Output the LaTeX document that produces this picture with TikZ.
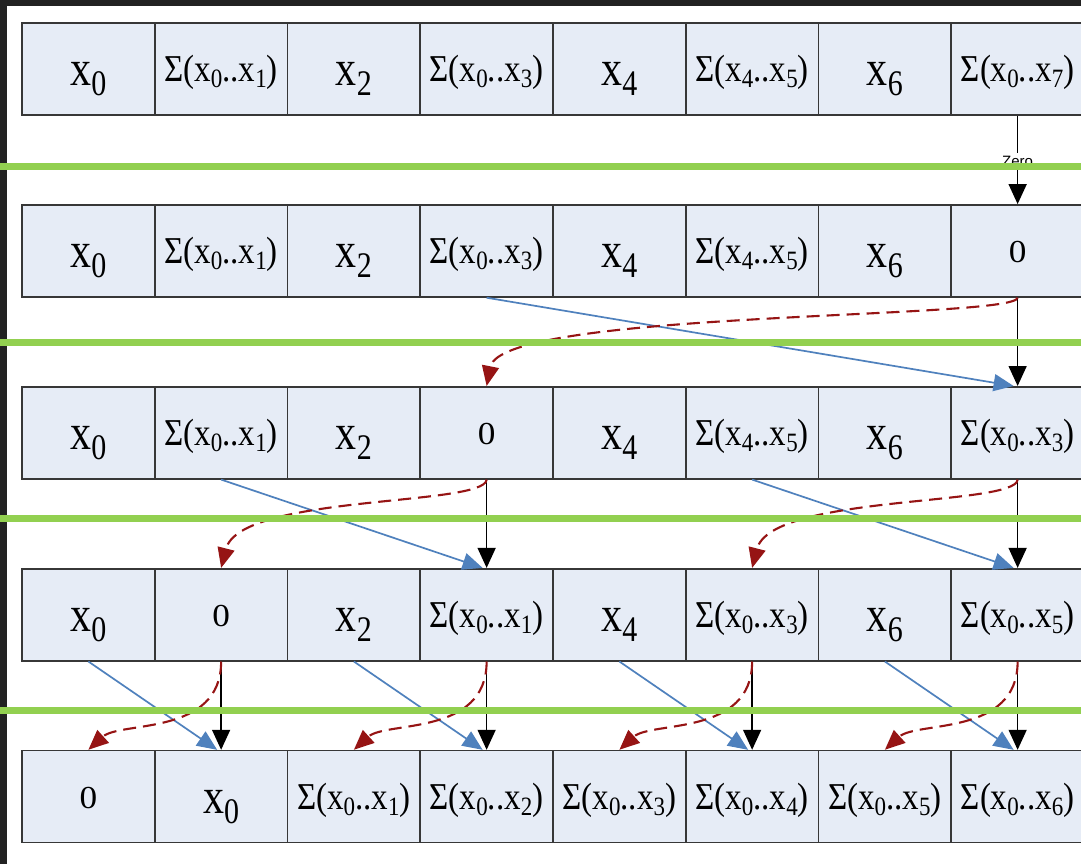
\documentclass[tikz,border=0pt]{standalone}
\usepackage{fontspec}
\setmainfont{Liberation Serif}
\setsansfont{Liberation Sans}
\usetikzlibrary{arrows.meta}
\definecolor{cellfill}{RGB}{230,236,246}
\definecolor{cellline}{RGB}{55,55,55}
\definecolor{gline}{RGB}{146,208,80}
\definecolor{barrow}{RGB}{79,129,189}
\definecolor{rarrow}{RGB}{150,20,20}
\definecolor{framedark}{RGB}{34,34,34}
\newcommand\cellsub[1]{\raisebox{-5pt}{\fontsize{23}{23}\selectfont #1}}
\newcommand\cellX[1]{\raisebox{-17pt}{\scalebox{1}[1.2]{\fontsize{42}{42}\selectfont x\raisebox{-8pt}{\fontsize{30}{30}\selectfont #1}}}}
\newcommand\cellS[2]{\raisebox{-13pt}{\scalebox{1}[1.15]{\fontsize{33}{33}\selectfont Σ(x\cellsub{#1}..x\cellsub{#2})}}}
\newcommand\cellZ{\raisebox{-12pt}{\scalebox{1.1}[1]{\fontsize{32}{32}\selectfont 0}}}
\tikzset{
  cell/.style={draw=cellline, fill=cellfill, line width=1.6pt, minimum width=132.75pt,
    minimum height=92pt, inner sep=0pt, text height=0pt, text depth=0pt},
  blk/.style={draw=black, line width=1.5pt, -{Triangle[length=20pt,width=18pt]}},
  blu/.style={draw=barrow, line width=1.7pt, -{Triangle[length=20pt,width=17pt]}},
  redcurve/.style={draw=rarrow, line width=2.1pt, dash pattern=on 13pt off 7pt,
    -{Triangle[length=20pt,width=17pt,fill=rarrow]}},
  sepline/.style={draw=gline, line width=7pt},
  zerolabel/.style={fill=white, inner sep=3pt, font=\fontsize{15}{15}\sffamily}
}
\begin{document}
\begin{tikzpicture}[x=1pt,y=-1pt]
\useasboundingbox (0,0) rectangle (1081,864);
\clip (0,0) rectangle (1081,864);
\fill[white] (0,0) rectangle (1081,864);
\fill[framedark] (0,0) rectangle (1081,6);
\fill[framedark] (0,0) rectangle (7,864);
% rows
\foreach \c/\t in {0/\cellX{0},1/\cellS{0}{1},2/\cellX{2},3/\cellS{0}{3},4/\cellX{4},5/\cellS{4}{5},6/\cellX{6},7/\cellS{0}{7}}
  \node[cell] (r1c\c) at (88.375+132.75*\c, 69) {\t};
\foreach \c/\t in {0/\cellX{0},1/\cellS{0}{1},2/\cellX{2},3/\cellS{0}{3},4/\cellX{4},5/\cellS{4}{5},6/\cellX{6},7/\cellZ}
  \node[cell] (r2c\c) at (88.375+132.75*\c, 250.9) {\t};
\foreach \c/\t in {0/\cellX{0},1/\cellS{0}{1},2/\cellX{2},3/\cellZ,4/\cellX{4},5/\cellS{4}{5},6/\cellX{6},7/\cellS{0}{3}}
  \node[cell] (r3c\c) at (88.375+132.75*\c, 432.8) {\t};
\foreach \c/\t in {0/\cellX{0},1/\cellZ,2/\cellX{2},3/\cellS{0}{1},4/\cellX{4},5/\cellS{0}{3},6/\cellX{6},7/\cellS{0}{5}}
  \node[cell] (r4c\c) at (88.375+132.75*\c, 614.7) {\t};
\foreach \c/\t in {0/\cellZ,1/\cellX{0},2/\cellS{0}{1},3/\cellS{0}{2},4/\cellS{0}{3},5/\cellS{0}{4},6/\cellS{0}{5},7/\cellS{0}{6}}
  \node[cell] (r5c\c) at (88.375+132.75*\c, 796.6) {\t};
% row 1 -> row 2
\draw[blk] (r1c7.south) -- node[zerolabel, pos=0.52] (zero) {Zero} (r2c7.north);
% row 2 -> row 3
\draw[blu] (r2c3.south) -- ([xshift=-4pt]r3c7.north);
\draw[blk] (r2c7.south) -- (r3c7.north);
\draw[redcurve] (r2c7.south) .. controls +(-3,22) and +(15,-76) .. (r3c3.north);
% row 3 -> row 4
\foreach \a/\b in {1/3,5/7}{
  \draw[blu] (r3c\a.south) -- ([xshift=-4pt]r4c\b.north);
  \draw[blk] (r3c\b.south) -- (r4c\b.north);
  \draw[redcurve] (r3c\b.south) .. controls +(-2,27) and +(19,-74) .. (r4c\a.north);
}
% row 4 -> row 5
\foreach \a/\b in {0/1,2/3,4/5,6/7}{
  \draw[blu] (r4c\a.south) -- ([xshift=-4pt]r5c\b.north);
  \draw[blk] (r4c\b.south) -- (r5c\b.north);
  \draw[redcurve] (r4c\b.south) .. controls +(0,75) and +(32,-29) .. (r5c\a.north);
}
% green separators
\foreach \y in {166,342,518,710}
  \draw[sepline] (0,\y) -- (1081,\y);
\end{tikzpicture}
\end{document}
